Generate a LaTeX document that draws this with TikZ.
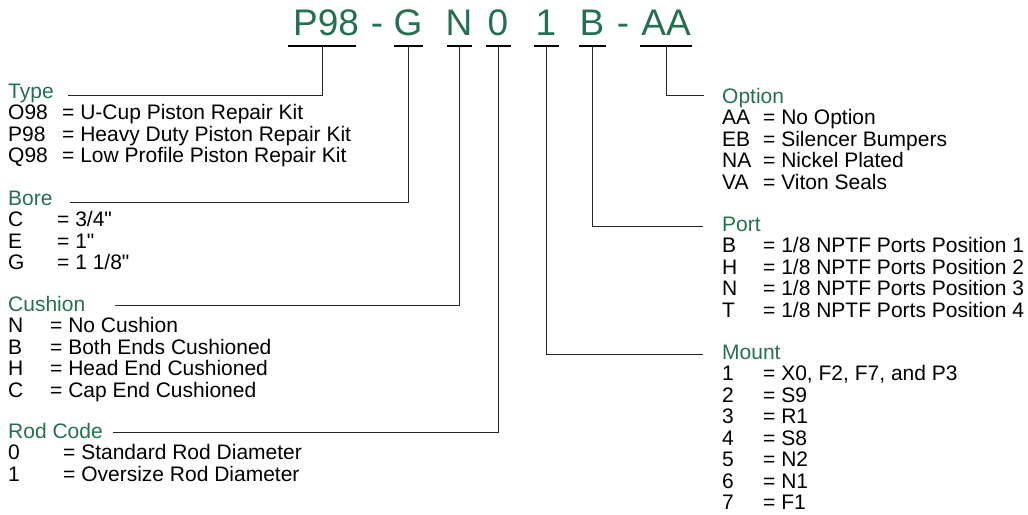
\documentclass[tikz,border=0pt]{standalone}
\usepackage{fontspec}
\setmainfont{Liberation Sans}[Ligatures=TeXOff]
\definecolor{hdr}{RGB}{36,112,80}
\newcommand{\ky}[2]{\makebox[#1][l]{#2}}
\begin{document}
\begin{tikzpicture}[x=1pt,y=-1pt,
 code/.style={anchor=base,inner sep=0,font=\fontsize{37}{40}\selectfont,text=hdr},
 uline/.style={fill=black,inner sep=0,minimum height=2pt},
 block/.style={anchor=base west,inner sep=0,align=left,font=\fontsize{21}{21.5}\selectfont},
 conn/.style={draw=black!85,line width=0.8pt}]
\useasboundingbox (0,0) rectangle (1028,514);
% code letters
\node[code] (cP) at (326,35) {P98};
\node[code] (d1) at (377,35) {-};
\node[code] (cG) at (408,35) {G};
\node[code] (cN) at (459,35) {N};
\node[code] (c0) at (498,35) {0};
\node[code] (c1) at (546,35) {1};
\node[code] (cB) at (592,35) {B};
\node[code] (d2) at (623,35) {-};
\node[code] (cA) at (666,35) {AA};
% underlines
\node[uline,minimum width=68pt] (uP) at (322,45.5) {};
\node[uline,minimum width=29pt] (uG) at (408,45.5) {};
\node[uline,minimum width=25pt] (uN) at (459,45.5) {};
\node[uline,minimum width=25pt] (u0) at (498,45.5) {};
\node[uline,minimum width=25pt] (u1) at (546,45.5) {};
\node[uline,minimum width=27pt] (uB) at (592,45.5) {};
\node[uline,minimum width=52pt] (uA) at (666,45.5) {};
% blocks (anchored at baseline of last line)
\node[block] (type) at (8,162.5) {{\color{hdr}Type}\\
\ky{54pt}{O98}= U-Cup Piston Repair Kit\\
\ky{54pt}{P98}= Heavy Duty Piston Repair Kit\\
\ky{54pt}{Q98}= Low Profile Piston Repair Kit};
\node[block] (bore) at (8,269.5) {{\color{hdr}Bore}\\
\ky{49pt}{C}= 3/4"\\
\ky{49pt}{E}= 1"\\
\ky{49pt}{G}= 1 1/8"};
\node[block] (cush) at (8,397) {{\color{hdr}Cushion}\\
\ky{42pt}{N}= No Cushion\\
\ky{42pt}{B}= Both Ends Cushioned\\
\ky{42pt}{H}= Head End Cushioned\\
\ky{42pt}{C}= Cap End Cushioned};
\node[block] (rod) at (8,481) {{\color{hdr}Rod Code}\\
\ky{55pt}{0}= Standard Rod Diameter\\
\ky{55pt}{1}= Oversize Rod Diameter};
\node[block] (opt) at (722,189) {{\color{hdr}Option}\\
\ky{41pt}{AA}= No Option\\
\ky{41pt}{EB}= Silencer Bumpers\\
\ky{41pt}{NA}= Nickel Plated\\
\ky{41pt}{VA}= Viton Seals};
\node[block] (port) at (722,317) {{\color{hdr}Port}\\
\ky{41pt}{B}= 1/8 NPTF Ports Position 1\\
\ky{41pt}{H}= 1/8 NPTF Ports Position 2\\
\ky{41pt}{N}= 1/8 NPTF Ports Position 3\\
\ky{41pt}{T}= 1/8 NPTF Ports Position 4};
\node[block] (mount) at (722,509.5) {{\color{hdr}Mount}\\
\ky{41pt}{1}= X0, F2, F7, and P3\\
\ky{41pt}{2}= S9\\
\ky{41pt}{3}= R1\\
\ky{41pt}{4}= S8\\
\ky{41pt}{5}= N2\\
\ky{41pt}{6}= N1\\
\ky{41pt}{7}= F1};
% connector ends
\coordinate (typeL) at (68,95);
\coordinate (boreL) at (70,202.3);
\coordinate (cushL) at (115,305.7);
\coordinate (rodL) at (113,432.7);
\coordinate (optL) at (704,95.7);
\coordinate (portL) at (703,226);
\coordinate (mountL) at (703,354);
\draw[conn] (uP.south) |- (typeL);
\draw[conn] (uG.south) |- (boreL);
\draw[conn] (uN.south) |- (cushL);
\draw[conn] (u0.south) |- (rodL);
\draw[conn] (u1.south) |- (mountL);
\draw[conn] (uB.south) |- (portL);
\draw[conn] (uA.south) |- (optL);
\end{tikzpicture}
\end{document}
